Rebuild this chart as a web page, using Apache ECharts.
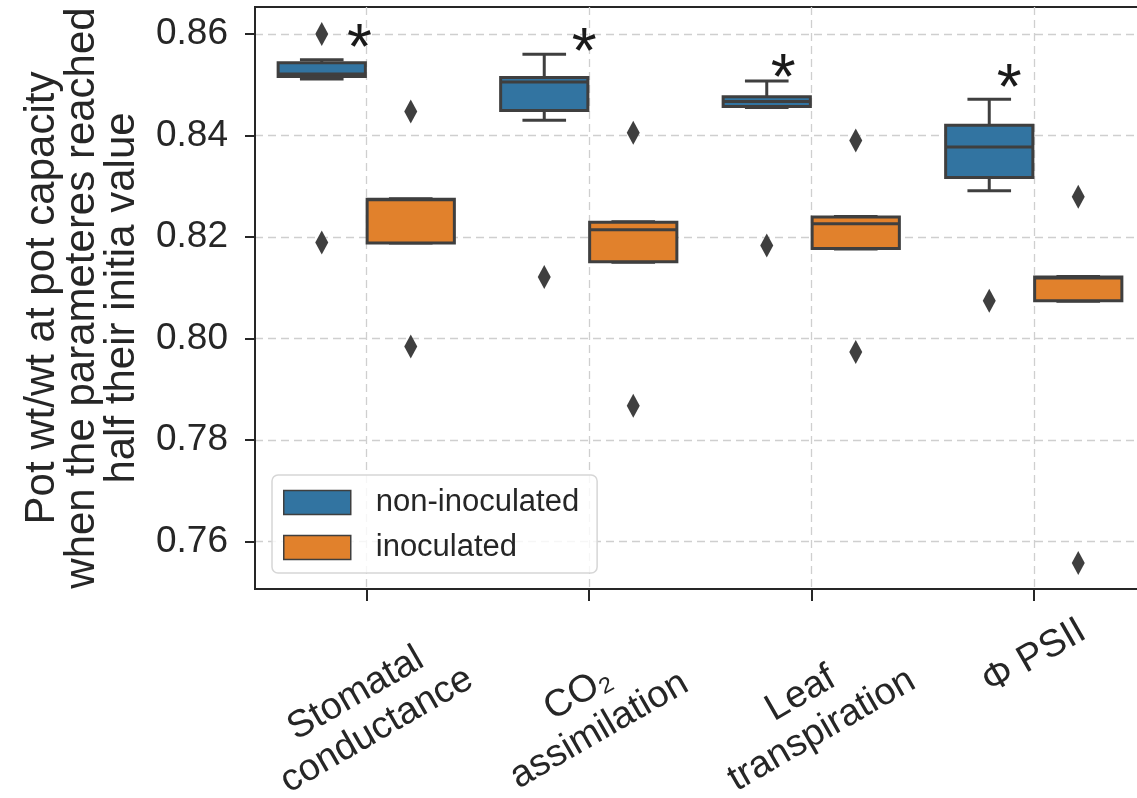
<!DOCTYPE html>
<html>
<head>
<meta charset="utf-8">
<script src="https://cdn.jsdelivr.net/npm/echarts@6/dist/echarts.min.js"></script>
<style>
  html, body { margin: 0; padding: 0; background: #ffffff; }
  #chart { width: 1137px; height: 798px; }
</style>
</head>
<body>
<div id="chart"></div>
<script>
// ---- data -------------------------------------------------------------
const categories = ['Stomatal\nconductance', 'CO₂\nassimilation', 'Leaf\ntranspiration', 'Φ PSII'];
const groupNames = ['non-inoculated', 'inoculated'];

// box statistics per category: [min whisker, Q1, median, Q3, max whisker]
const nonInoculatedBoxes = [
  [0.8511, 0.8516, 0.8521, 0.8543, 0.8549],
  [0.8430, 0.8449, 0.8505, 0.8514, 0.8560],
  [0.8455, 0.8457, 0.8467, 0.8476, 0.8507],
  [0.8291, 0.8317, 0.8377, 0.8420, 0.8471]
];
const inoculatedBoxes = [
  [0.8188, 0.8188, 0.8273, 0.8274, 0.8275],
  [0.8150, 0.8151, 0.8214, 0.8229, 0.8230],
  [0.8176, 0.8177, 0.8226, 0.8239, 0.8240],
  [0.8073, 0.8074, 0.8119, 0.8121, 0.8122]
];

// outliers: [category index, value]
const nonInoculatedOutliers = [[0, 0.8600], [0, 0.8189], [1, 0.8121], [2, 0.8183], [3, 0.8074]];
const inoculatedOutliers = [[0, 0.8447], [0, 0.7984], [1, 0.8405], [1, 0.7867], [2, 0.8390], [2, 0.7973], [3, 0.8279], [3, 0.7557]];

// significance asterisks: [category index, shift within the band, value]
const asterisks = [[0, -0.03, 0.8593], [1, -0.02, 0.8585], [2, -0.126, 0.8534], [3, -0.11, 0.8514]];

const yTicks = [0.76, 0.78, 0.80, 0.82, 0.84, 0.86];
const yRange = [0.7506, 0.8653];

// ---- styling ----------------------------------------------------------
const FONT = '"Liberation Sans", Arial, sans-serif';
const TEXT = '#262626';
const EDGE = '#3f3f3f';
const LW = 3;
const COLORS = ['#3274a1', '#e1812c'];
const HUE_OFFSET = [-0.2, 0.2];

function boxRenderer(hue) {
  return function (params, api) {
    const cat = api.value(0);
    const band = api.size([1, 0])[0];
    const w = band * 0.392;
    const cx = api.coord([cat, yRange[0]])[0] + HUE_OFFSET[hue] * band;
    const y = (i) => api.coord([cat, api.value(i)])[1];
    const yMin = y(1), yQ1 = y(2), yMed = y(3), yQ3 = y(4), yMax = y(5);
    const ls = { stroke: EDGE, lineWidth: LW };
    return {
      type: 'group',
      children: [
        { type: 'line', shape: { x1: cx, y1: yQ3, x2: cx, y2: yMax }, style: ls },
        { type: 'line', shape: { x1: cx, y1: yQ1, x2: cx, y2: yMin }, style: ls },
        { type: 'line', shape: { x1: cx - w / 4, y1: yMax, x2: cx + w / 4, y2: yMax }, style: ls },
        { type: 'line', shape: { x1: cx - w / 4, y1: yMin, x2: cx + w / 4, y2: yMin }, style: ls },
        { type: 'rect', shape: { x: cx - w / 2, y: yQ3, width: w, height: yQ1 - yQ3 },
          style: { fill: COLORS[hue], stroke: EDGE, lineWidth: LW } },
        { type: 'line', shape: { x1: cx - w / 2, y1: yMed, x2: cx + w / 2, y2: yMed }, style: ls }
      ]
    };
  };
}

function outlierRenderer(hue) {
  return function (params, api) {
    const band = api.size([1, 0])[0];
    const p = api.coord([api.value(0), api.value(1)]);
    const x = p[0] + HUE_OFFSET[hue] * band;
    const hw = 6.5, hh = 12;
    return {
      type: 'polygon',
      shape: { points: [[x, p[1] - hh], [x + hw, p[1]], [x, p[1] + hh], [x - hw, p[1]]] },
      style: { fill: EDGE }
    };
  };
}

function asteriskRenderer(params, api) {
  const band = api.size([1, 0])[0];
  const p = api.coord([api.value(0), api.value(2)]);
  const size = 64;
  return {
    type: 'text',
    x: p[0] + api.value(1) * band,
    y: p[1] + size * 0.22,
    style: { text: '*', fontSize: size, fontFamily: FONT, fill: '#1a1a1a', align: 'center', verticalAlign: 'middle' }
  };
}

const boxData = (boxes) => boxes.map((b, i) => [i].concat(b));

// single-line tick labels hang from the same top edge as the two-line ones,
// so they get blank lines below them to lift the text inside the rotated box
const tickLabel = (v) => (v.indexOf('\n') < 0 ? v + '\n\n' : v);

const chart = echarts.init(document.getElementById('chart'), null, { renderer: 'canvas' });

chart.setOption({
  backgroundColor: '#ffffff',
  animation: false,
  grid: {
    left: 255, top: 7, right: -8, bottom: 209,
    show: true, borderColor: TEXT, borderWidth: 2,
    containLabel: false, outerBoundsMode: 'none'
  },
  legend: {
    left: 272, top: 475,
    orient: 'vertical',
    padding: [12, 18, 10, 11],
    itemWidth: 67, itemHeight: 24, itemGap: 14,
    backgroundColor: 'rgba(255,255,255,0.8)',
    borderColor: '#d6d6d6', borderWidth: 1.5, borderRadius: 6,
    textStyle: { fontSize: 31, color: TEXT, fontFamily: FONT, padding: [0, 0, 0, 20] },
    data: groupNames.map((n, i) => ({
      name: n, icon: 'rect',
      itemStyle: { color: COLORS[i], borderColor: EDGE, borderWidth: 1.5 }
    })),
    selectedMode: false
  },
  xAxis: {
    type: 'category',
    data: categories.map((c) => c.indexOf('\n') < 0
      ? { value: c, textStyle: { align: 'center', verticalAlign: 'middle', lineHeight: 48, padding: [0, 0, 0, 56] } }
      : c),
    boundaryGap: true,
    axisLine: { show: true, lineStyle: { color: TEXT, width: 2 } },
    axisTick: { show: true, alignWithLabel: true, length: 12, lineStyle: { color: TEXT, width: 2 } },
    axisLabel: {
      interval: 0, rotate: 30, margin: 123,
      align: 'center', verticalAlign: 'middle',
      formatter: tickLabel,
      fontSize: 38, lineHeight: 42, color: TEXT, fontFamily: FONT
    },
    splitLine: { show: true, alignWithLabel: true, lineStyle: { color: '#cfcfcf', type: [8, 5], width: 1.3 } }
  },
  yAxis: {
    type: 'value',
    min: yRange[0], max: yRange[1],
    minInterval: 0.02, maxInterval: 0.02,
    name: 'Pot wt/wt at pot capacity\nwhen the parameteres reached\nhalf their initia value',
    nameLocation: 'middle', nameGap: 113,
    nameTextStyle: { fontSize: 42, lineHeight: 40, color: TEXT, fontFamily: FONT, align: 'center' },
    axisLine: { show: true, lineStyle: { color: TEXT, width: 2 } },
    axisTick: { show: true, length: 10, customValues: yTicks, lineStyle: { color: TEXT, width: 2 } },
    axisLabel: {
      customValues: yTicks,
      formatter: (v) => v.toFixed(2),
      fontSize: 37, margin: 27, color: TEXT, fontFamily: FONT
    },
    splitLine: { show: true, lineStyle: { color: '#cfcfcf', type: [8, 5], width: 1.3 } }
  },
  series: [
    { name: groupNames[0], type: 'custom', renderItem: boxRenderer(0), data: boxData(nonInoculatedBoxes),
      encode: { x: 0, y: [1, 2, 3, 4, 5] }, itemStyle: { color: COLORS[0] }, z: 3 },
    { name: groupNames[1], type: 'custom', renderItem: boxRenderer(1), data: boxData(inoculatedBoxes),
      encode: { x: 0, y: [1, 2, 3, 4, 5] }, itemStyle: { color: COLORS[1] }, z: 3 },
    { name: groupNames[0], type: 'custom', renderItem: outlierRenderer(0), data: nonInoculatedOutliers,
      encode: { x: 0, y: 1 }, itemStyle: { color: COLORS[0] }, z: 4 },
    { name: groupNames[1], type: 'custom', renderItem: outlierRenderer(1), data: inoculatedOutliers,
      encode: { x: 0, y: 1 }, itemStyle: { color: COLORS[1] }, z: 4 },
    { name: 'significance', type: 'custom', renderItem: asteriskRenderer, data: asterisks,
      encode: { x: 0, y: 2 }, z: 5 }
  ]
});
</script>
</body>
</html>
